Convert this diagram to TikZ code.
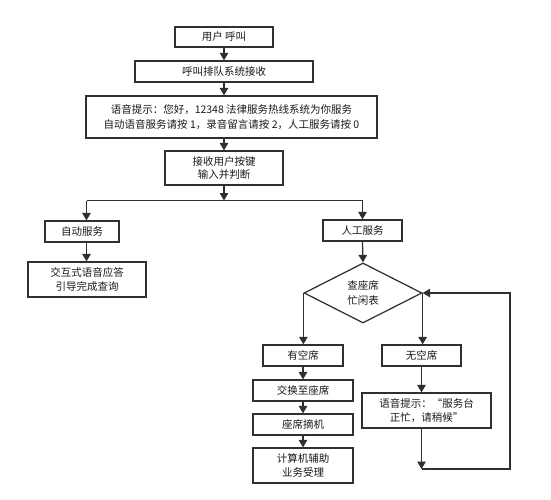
\documentclass[tikz,border=0pt]{standalone}
\usepackage{fontspec}
\newfontfamily\cjk{Noto Sans CJK SC}
\usetikzlibrary{arrows.meta,shapes.geometric}
\definecolor{ln}{HTML}{303030}
\definecolor{tx}{HTML}{1A1A1A}
\tikzset{
  box/.style={draw=ln, line width=1.25pt, fill=white, inner sep=0pt, align=center,
    text=tx, font=\cjk\fontsize{10.5}{14.5}\selectfont},
  decide/.style={box, shape=diamond, shape aspect=2},
  arr/.style={draw=ln, line width=1.25pt, -{Triangle[width=8.5pt,length=7.5pt]}},
  ln/.style={draw=ln, line width=1.25pt},
}
\begin{document}
\begin{tikzpicture}[x=1pt,y=-1pt]
\useasboundingbox[fill=white] (0,0) rectangle (551,500);

\node[box, minimum width=98, minimum height=20] (user) at (224,37) {用户 呼叫};
\node[box, minimum width=178, minimum height=21] (queue) at (224,71.5) {呼叫排队系统接收};
\node[box, minimum width=291, minimum height=42, font=\cjk\fontsize{10.5}{15.5}\selectfont] (prompt) at (231.5,117)
  {语音提示：您好，12348 法律服务热线系统为你服务\\自动语音服务请按 1，录音留言请按 2，人工服务请按 0};
\node[box, minimum width=118, minimum height=34, font=\cjk\fontsize{10.5}{13}\selectfont] (recv) at (224,168) {接收用户按键\\输入并判断};

\node[box, minimum width=74, minimum height=21] (auto) at (82,231.5) {自动服务};
\node[box, minimum width=118, minimum height=35] (ivr) at (87,279.5) {交互式语音应答\\引导完成查询};
\node[box, minimum width=79, minimum height=21] (manual) at (362.5,230.5) {人工服务};

\node[decide, minimum width=118, minimum height=60] (dia) at (363,293) {查座席\\忙闲表};

\node[box, minimum width=80, minimum height=21] (yes) at (303,355.5) {有空席};
\node[box, minimum width=79, minimum height=21] (no) at (421.5,355.5) {无空席};
\node[box, minimum width=100, minimum height=21] (swap) at (303,390.5) {交换至座席};
\node[box, minimum width=100, minimum height=21] (pick) at (303,424.5) {座席摘机};
\node[box, minimum width=100, minimum height=35] (comp) at (303,465.5) {计算机辅助\\业务受理};
\node[box, minimum width=129, minimum height=35] (wait) at (426.5,410.5) {语音提示：“服务台\\正忙，请稍候”};

\coordinate (jc) at (224,200.5);
\coordinate (jl) at (86.5,200.5);
\coordinate (jr) at (362.5,200.5);
\coordinate (lb) at (421.5,469);
\coordinate (lr) at (510,469);

\draw[arr] (user) -- (queue);
\draw[arr] (queue.south) -- (queue.south |- prompt.north);
\draw[arr] (queue.south |- prompt.south) -- (queue.south |- recv.north);
\draw[arr] (recv.south) -- (jc);
\draw[ln] (jl) -- (jr);
\draw[arr] (jl) -- (jl |- auto.north);
\draw[arr] (jl |- auto.south) -- (jl |- ivr.north);
\draw[arr] (jr) -- (manual.north);
\draw[arr] (manual.south) -- (dia.north);
\draw[arr] (dia.west) -- (dia.west |- yes.north);
\draw[arr] (dia.east) -- (dia.east |- no.north);
\draw[arr] (yes.south) -- (swap.north);
\draw[arr] (swap.south) -- (pick.north);
\draw[arr] (pick.south) -- (comp.north);
\draw[arr] (no.south) -- (no.south |- wait.north);
\draw[arr] (no.south |- wait.south) -- (lb);
\draw[arr] (lb) -- (lr) |- (dia.east);
\end{tikzpicture}
\end{document}
